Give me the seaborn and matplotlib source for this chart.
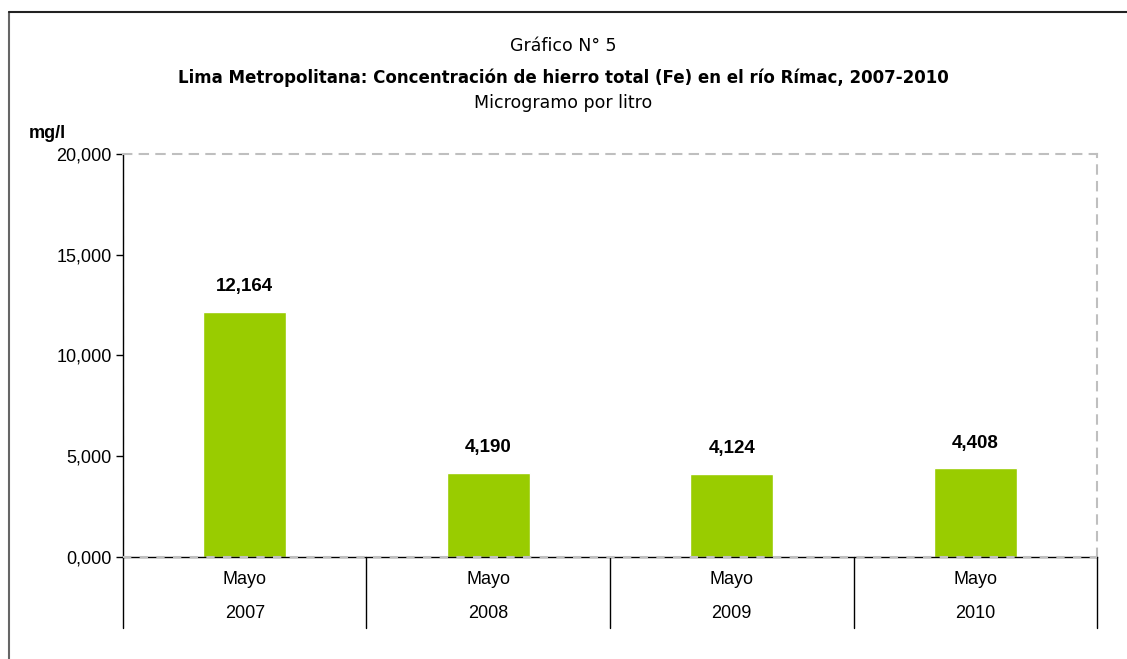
import matplotlib
matplotlib.use("Agg")
import matplotlib.pyplot as plt
import seaborn as sns
import pandas as pd

# Data
years = ["2007", "2008", "2009", "2010"]
months = ["Mayo", "Mayo", "Mayo", "Mayo"]
fe_values = [12164, 4190, 4124, 4408]
y_ticks = [0, 5000, 10000, 15000, 20000]
y_tick_labels = ["0,000", "5,000", "10,000", "15,000", "20,000"]

df = pd.DataFrame({"Periodo": years, "Fe": fe_values})

sns.set_theme(style="white")
narrow = ["Liberation Sans Narrow", "DejaVu Sans Condensed", "DejaVu Sans"]
plt.rcParams["font.family"] = ["Liberation Sans", "DejaVu Sans"]
plt.rcParams["text.color"] = "black"
plt.rcParams["ytick.color"] = "black"
plt.rcParams["ytick.labelcolor"] = "black"

fig = plt.figure(figsize=(11.27, 6.59), dpi=100)
ax = fig.add_axes([0.1091, 0.1548, 0.8643, 0.6115])

sns.barplot(data=df, x="Periodo", y="Fe", color="#99CC00", width=0.34,
            saturation=1, ax=ax)

ax.set_ylim(0, 20000)
ax.set_xlim(-0.5, 3.5)
ax.set_yticks(y_ticks)
ax.set_yticklabels(y_tick_labels, fontsize=13, color="black")
ax.set_xticks([])
ax.set_xlabel("")
ax.set_ylabel("")
ax.tick_params(axis="y", direction="out", length=5, width=1, color="black",
               left=True, pad=3)

# plot area borders
for side in ["top", "right"]:
    ax.spines[side].set_color("#BFBFBF")
    ax.spines[side].set_linestyle((0, (4, 4)))
    ax.spines[side].set_linewidth(1.5)
ax.spines["left"].set_color("black")
ax.spines["left"].set_linewidth(1)
ax.spines["bottom"].set_color("black")
ax.spines["bottom"].set_linewidth(1)
ax.axhline(0, color="#BFBFBF", linestyle=(0, (4, 4)), linewidth=1.5, zorder=5,
           clip_on=False)
ax.axvline(-0.5, ymin=0, ymax=1, color="#BFBFBF", linestyle=(2, (4, 4)),
           linewidth=1.5, zorder=1)

# value labels
for i, v in enumerate(fe_values):
    ax.annotate(f"{v:,}", (i, v), xytext=(0, 18), textcoords="offset points",
                ha="center", va="center", fontsize=13.5, fontweight="bold",
                color="black")

# category labels and separators
trans = ax.get_xaxis_transform()
for i, (m, y) in enumerate(zip(months, years)):
    ax.text(i, -0.057, m, transform=trans, ha="center", va="center",
            fontsize=13, color="black")
    ax.text(i, -0.141, y, transform=trans, ha="center", va="center",
            fontsize=13, color="black")
for xs in [-0.5, 0.5, 1.5, 2.5, 3.5]:
    ax.plot([xs, xs], [0, -0.175], transform=trans, color="black",
            linewidth=1, clip_on=False)

# titles
fig.text(0.5, 1 - 46 / 659, "Gráfico N° 5", ha="center", va="center",
         fontsize=12.5, family=narrow, color="black")
fig.text(0.5, 1 - 78 / 659,
         "Lima Metropolitana: Concentración de hierro total (Fe) en el río Rímac, 2007-2010",
         ha="center", va="center", fontsize=12, fontweight="bold", family=narrow,
         color="black")
fig.text(0.5, 1 - 103 / 659, "Microgramo por litro", ha="center", va="center",
         fontsize=12.5, family=narrow, color="black")
fig.text(47 / 1127, 1 - 133 / 659, "mg/l", ha="center", va="center",
         fontsize=13, fontweight="bold", color="black")

# outer frame (left and top edges visible)
fig.add_artist(plt.Line2D([8.5 / 1127, 8.5 / 1127], [0, 1 - 12 / 659],
                          color="#666666", linewidth=1.5))
fig.add_artist(plt.Line2D([8.5 / 1127, 1], [1 - 12 / 659, 1 - 12 / 659],
                          color="#222222", linewidth=1.5))

fig.savefig("out.png", dpi=100)
